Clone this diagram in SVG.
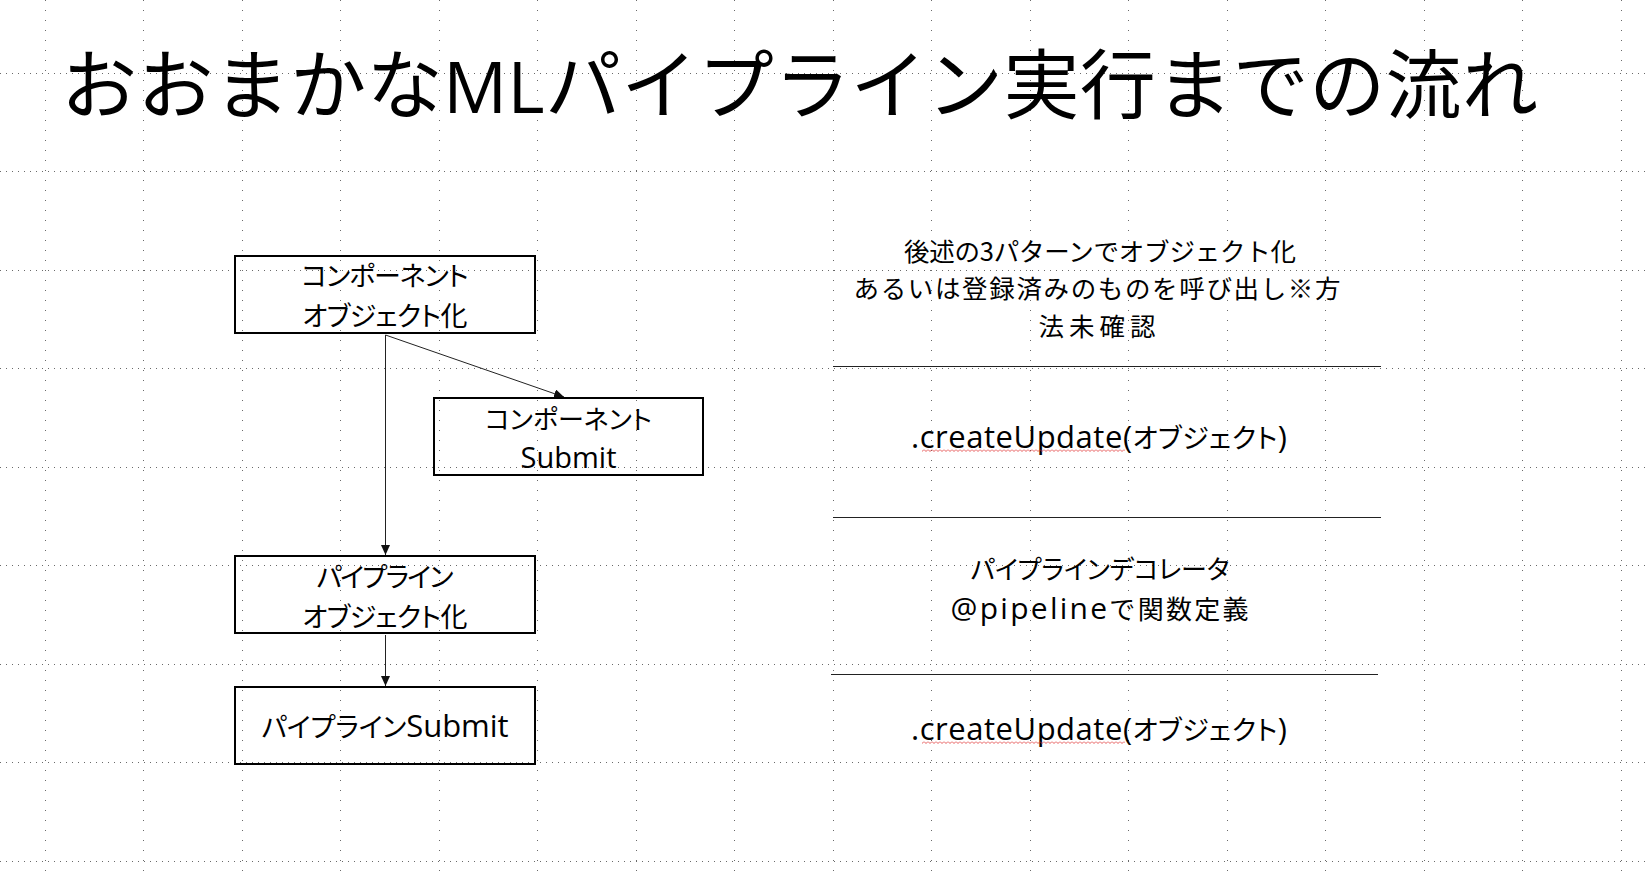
<svg xmlns="http://www.w3.org/2000/svg" width="1645" height="876" viewBox="0 0 1645 876">
<style>
.bg{fill:#ffffff}
.gh{stroke:#6a6a6a;stroke-width:1;stroke-dasharray:1 5;shape-rendering:crispEdges}
.gv{stroke:#6a6a6a;stroke-width:1;stroke-dasharray:1 9;shape-rendering:crispEdges}
.box{fill:none;stroke:#000;stroke-width:2;shape-rendering:crispEdges}
.cj{font-family:'Noto Sans CJK JP',sans-serif;fill:#000}
.p{font-feature-settings:"palt"}
.lat{font-family:'Open Sans',sans-serif;font-size:31px}
.bx{text-anchor:middle;font-size:27px}
.rt{text-anchor:middle;font-size:25.5px}
.conn{stroke:#222;stroke-width:1;fill:none}
.sep{stroke:#222;stroke-width:1.2}
</style>
<defs>
<marker id="ah" markerUnits="userSpaceOnUse" markerWidth="10" markerHeight="9" refX="10" refY="4.5" orient="auto">
<path d="M0,0 L10,4.5 L0,9 Z" fill="#111"/>
</marker>
<pattern id="sq1" patternUnits="userSpaceOnUse" x="0" y="449" width="4" height="3">
<path d="M0,0.5 L2,2.5 L4,0.5" stroke="#e03030" stroke-width="0.8" fill="none"/>
</pattern>
<pattern id="sq2" patternUnits="userSpaceOnUse" x="0" y="741" width="4" height="3">
<path d="M0,0.5 L2,2.5 L4,0.5" stroke="#e03030" stroke-width="0.8" fill="none"/>
</pattern>
</defs>
<rect class="bg" x="0" y="0" width="1645" height="876"/>
<g id="grid">
<line class="gh" x1="0" y1="73.5" x2="1645" y2="73.5"/>
<line class="gh" x1="0" y1="171.5" x2="1645" y2="171.5"/>
<line class="gh" x1="0" y1="270.5" x2="1645" y2="270.5"/>
<line class="gh" x1="0" y1="368.5" x2="1645" y2="368.5"/>
<line class="gh" x1="0" y1="467.5" x2="1645" y2="467.5"/>
<line class="gh" x1="0" y1="565.5" x2="1645" y2="565.5"/>
<line class="gh" x1="0" y1="664.5" x2="1645" y2="664.5"/>
<line class="gh" x1="0" y1="762.5" x2="1645" y2="762.5"/>
<line class="gh" x1="0" y1="861.5" x2="1645" y2="861.5"/>
<line class="gv" x1="45.5" y1="0" x2="45.5" y2="876"/>
<line class="gv" x1="143.5" y1="0" x2="143.5" y2="876"/>
<line class="gv" x1="242.5" y1="0" x2="242.5" y2="876"/>
<line class="gv" x1="340.5" y1="0" x2="340.5" y2="876"/>
<line class="gv" x1="439.5" y1="0" x2="439.5" y2="876"/>
<line class="gv" x1="537.5" y1="0" x2="537.5" y2="876"/>
<line class="gv" x1="636.5" y1="0" x2="636.5" y2="876"/>
<line class="gv" x1="734.5" y1="0" x2="734.5" y2="876"/>
<line class="gv" x1="833.5" y1="0" x2="833.5" y2="876"/>
<line class="gv" x1="931.5" y1="0" x2="931.5" y2="876"/>
<line class="gv" x1="1030.5" y1="0" x2="1030.5" y2="876"/>
<line class="gv" x1="1128.5" y1="0" x2="1128.5" y2="876"/>
<line class="gv" x1="1227.5" y1="0" x2="1227.5" y2="876"/>
<line class="gv" x1="1325.5" y1="0" x2="1325.5" y2="876"/>
<line class="gv" x1="1424.5" y1="0" x2="1424.5" y2="876"/>
<line class="gv" x1="1522.5" y1="0" x2="1522.5" y2="876"/>
<line class="gv" x1="1621.5" y1="0" x2="1621.5" y2="876"/>
</g>
<g id="title">
<text x="61" y="113" style="font-family:'Noto Sans CJK JP',sans-serif;font-size:76px" textLength="1477" lengthAdjust="spacing">おおまかな<tspan style="font-family:'Open Sans',sans-serif;font-size:71px">ML</tspan>パイプライン実行までの流れ</text>
</g>
<g id="connectors">
<line class="conn" x1="385.5" y1="335" x2="385.5" y2="555" marker-end="url(#ah)"/>
<line class="conn" x1="385.5" y1="335" x2="564" y2="397" marker-end="url(#ah)"/>
<line class="conn" x1="385.5" y1="635" x2="385.5" y2="686" marker-end="url(#ah)"/>
</g>
<g id="node-component-object">
<rect class="box" x="235" y="256" width="300" height="77"/>
<text class="cj p bx"><tspan x="385" y="286" textLength="167" lengthAdjust="spacing">コンポーネント</tspan><tspan x="385" y="325.5" textLength="165" lengthAdjust="spacing">オブジェクト化</tspan></text>
</g>
<g id="node-component-submit">
<rect class="box" x="434" y="398" width="269" height="77"/>
<text class="cj p bx"><tspan x="568.5" y="429" textLength="167" lengthAdjust="spacing" style="font-size:26px">コンポーネント</tspan><tspan class="lat" x="568.5" y="467.5" style="font-size:29px">Submit</tspan></text>
</g>
<g id="node-pipeline-object">
<rect class="box" x="235" y="556" width="300" height="77"/>
<text class="cj p bx"><tspan x="385" y="587" textLength="137" lengthAdjust="spacing">パイプライン</tspan><tspan x="385" y="627" textLength="165" lengthAdjust="spacing">オブジェクト化</tspan></text>
</g>
<g id="node-pipeline-submit">
<rect class="box" x="235" y="687" width="300" height="77"/>
<text class="cj p bx" x="385" y="737" textLength="247" lengthAdjust="spacing">パイプライン<tspan class="lat">Submit</tspan></text>
</g>
<g id="notes">
<text class="cj rt"><tspan x="1100" y="261" textLength="392" lengthAdjust="spacing">後述の3パターンでオブジェクト化</tspan><tspan x="1097" y="298" textLength="487" lengthAdjust="spacing">あるいは登録済みのものを呼び出し※方</tspan><tspan x="1097" y="336" textLength="117" lengthAdjust="spacing">法未確認</tspan></text>
<line class="sep" x1="833" y1="366.5" x2="1381" y2="366.5"/>
<text class="cj p" style="font-size:27px" x="911" y="448" textLength="376" lengthAdjust="spacing"><tspan class="lat">.createUpdate(</tspan>オブジェクト<tspan class="lat">)</tspan></text>
<rect x="922" y="449" width="203" height="3" fill="url(#sq1)"/>
<line class="sep" x1="833" y1="517.5" x2="1381" y2="517.5"/>
<text class="cj rt"><tspan class="p" x="1100" y="578.5" textLength="259" lengthAdjust="spacing" style="font-size:26px">パイプラインデコレータ</tspan><tspan x="1099.5" y="619" textLength="298" lengthAdjust="spacing" style="font-size:26px"><tspan class="lat" style="font-size:30px">@pipeline</tspan>で関数定義</tspan></text>
<line class="sep" x1="831" y1="674.5" x2="1378" y2="674.5"/>
<text class="cj p" style="font-size:27px" x="911" y="740" textLength="376" lengthAdjust="spacing"><tspan class="lat">.createUpdate(</tspan>オブジェクト<tspan class="lat">)</tspan></text>
<rect x="922" y="741" width="203" height="3" fill="url(#sq2)"/>
</g>
</svg>
